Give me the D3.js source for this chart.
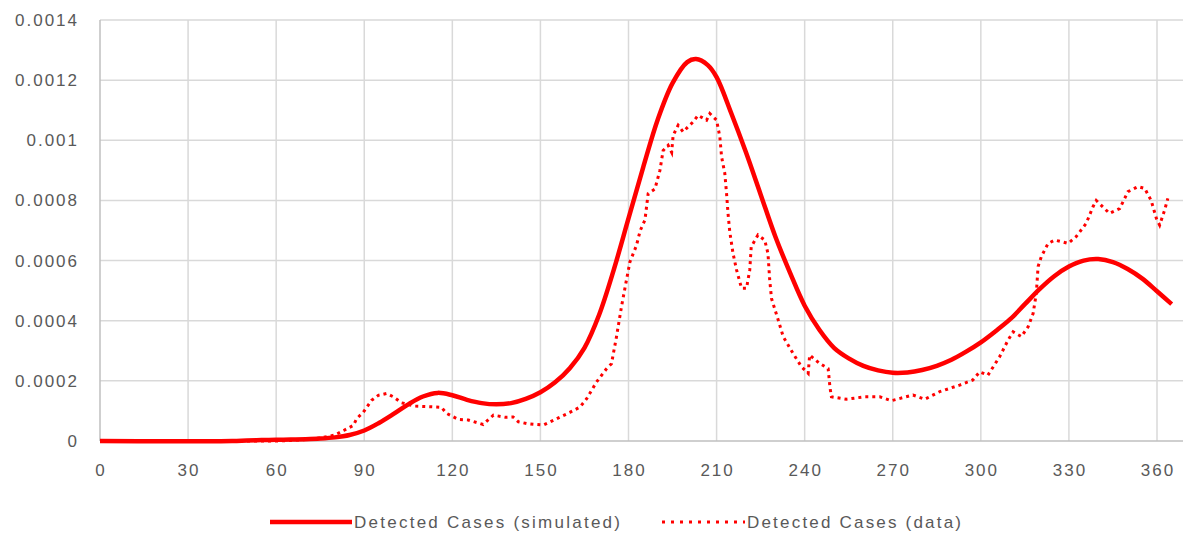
<!DOCTYPE html>
<html>
<head>
<meta charset="utf-8">
<script src="https://cdn.jsdelivr.net/npm/d3@7/dist/d3.min.js"></script>
<style>
  body { margin: 0; background: #fff; }
  text { font-family: "Liberation Sans", Arial, sans-serif; fill: #595959; }
</style>
</head>
<body>
<script>
// simulated series (smooth model curve), sampled every few days
let simDays = [0, 45, 50, 55, 60, 65, 70, 75, 80, 85, 90, 95, 100, 105, 110, 115, 120, 125, 130, 135,
    140, 145, 150, 155, 160, 165, 170, 175, 180, 185, 190, 195, 200, 203, 207, 210, 215, 220, 225, 230,
    235, 240, 245, 250, 255, 260, 265, 270, 275, 280, 285, 290, 295, 300, 305, 310, 315, 320, 325, 330,
    335, 340, 345, 350, 355, 360, 365];
let simValues = [0, 0, 0.000002, 0.000003, 0.000004, 0.000005, 0.000006, 0.000008, 0.000012, 0.00002,
    0.000035, 0.00006, 0.00009, 0.000122, 0.000148, 0.00016, 0.000152, 0.000137, 0.000126, 0.000122,
    0.000126, 0.00014, 0.000162, 0.000195, 0.000242, 0.00031, 0.00042, 0.00057, 0.00074, 0.00091,
    0.00107, 0.00119, 0.00126, 0.00127, 0.00125, 0.00121, 0.00109, 0.00096, 0.00082, 0.00068,
    0.00056, 0.00045, 0.00037, 0.00031, 0.000275, 0.00025, 0.000235, 0.000227, 0.000228, 0.000236,
    0.00025, 0.00027, 0.000297, 0.000328, 0.000365, 0.000405, 0.000455, 0.000505, 0.000548, 0.00058,
    0.0006, 0.000605, 0.000595, 0.000572, 0.00054, 0.000498, 0.000455];

// observed data series
let dataDays = [0, 60, 65, 70, 75, 80, 83, 86.3, 87.4, 89.7, 92.5, 94.8, 97.6, 99.9, 102.7, 107.3, 112.4,
    116.3, 118, 122, 125.4, 130.5, 134, 138, 140.7, 142.5, 145.3, 151, 155.5, 160, 163.5, 165.7, 169.1,
    172.5, 174.2, 175.9, 177.6, 179.3, 180.5, 182.7, 184, 185.6, 186.7, 189, 190.7, 191.8, 193.5, 194.7,
    195.2, 196.9, 198.6, 200.3, 202, 203.7, 206.6, 207.7, 210, 211.1, 211.7, 212.8, 213.4, 213.9, 214.5,
    215.6, 216.8, 218.5, 220.2, 221.3, 221.8, 224.1, 226.4, 227.5, 228.1, 228.7, 231, 232.7, 236, 238.9,
    241.2, 241.7, 245.1, 248, 248.6, 249.1, 254.2, 260.4, 265.6, 269.5, 276.9, 280.9, 286, 292.8, 297.3,
    299.6, 302.4, 306.4, 309.3, 311, 313.8, 316.1, 317.8, 318.9, 319.5, 320.6, 322.9, 325.2, 327.4,
    329.7, 332.5, 335.9, 338.2, 339.3, 343.8, 347.3, 350.1, 353.5, 355.8, 358, 359.8, 360.9, 362.6, 363.7];
let dataValues = [0, 0, 0.000002, 0.000005, 0.00001, 0.00002, 0.000035, 0.000052, 0.000074, 0.000096,
    0.000135, 0.000152, 0.000158, 0.000147, 0.000127, 0.000116, 0.000114, 0.000112, 0.000092, 0.000072,
    0.00007, 0.000055, 0.000086, 0.000079, 0.00008, 0.000064, 0.000058, 0.000053, 0.000074, 0.000095,
    0.000113, 0.00014, 0.000196, 0.00024, 0.000257, 0.000346, 0.000446, 0.000535, 0.000596, 0.00065,
    0.0007, 0.000735, 0.000823, 0.000838, 0.0009, 0.000966, 0.000983, 0.00096, 0.001016, 0.00105,
    0.001028, 0.001045, 0.001061, 0.001083, 0.001067, 0.001089, 0.001067, 0.001012, 0.000945, 0.00089,
    0.000823, 0.000756, 0.000695, 0.000624, 0.000569, 0.000508, 0.000508, 0.000569, 0.000646, 0.000685,
    0.000668, 0.000624, 0.000535, 0.000474, 0.000402, 0.000347, 0.000292, 0.000247, 0.000225, 0.000286,
    0.000258, 0.000241, 0.00018, 0.000147, 0.000139, 0.000147, 0.000147, 0.000134, 0.000153, 0.000139,
    0.000164, 0.000186, 0.000203, 0.00023, 0.000219, 0.00028, 0.000336, 0.000363, 0.000347, 0.00038,
    0.000424, 0.000491, 0.00058, 0.000613, 0.000657, 0.000668, 0.000663, 0.000657, 0.00068, 0.000724,
    0.000779, 0.0008, 0.000757, 0.000773, 0.000829, 0.000846, 0.00084, 0.0008, 0.00074, 0.000718,
    0.000768, 0.000807];

let xTicks = [0, 30, 60, 90, 120, 150, 180, 210, 240, 270, 300, 330, 360];
let yTicks = [0, 0.0002, 0.0004, 0.0006, 0.0008, 0.001, 0.0012, 0.0014];
let seriesNames = ["Detected Cases (simulated)", "Detected Cases (data)"];

let width = 1184,
    height = 537;

let svg = d3.select("body").append("svg")
    .attr("width", width).attr("height", height);

let x = d3.scaleLinear().domain([0, 360]).range([100, 1157]);
let y = d3.scaleLinear().domain([0, 0.0014]).range([441, 20]);
let xEnd = x.invert(1183);

// horizontal gridlines
svg.append("g").selectAll("line").data(yTicks.slice(1)).join("line")
    .attr("x1", x(0)).attr("x2", x(xEnd))
    .attr("y1", d => y(d)).attr("y2", d => y(d))
    .attr("stroke", "#d9d9d9").attr("stroke-width", 1.5);

// vertical gridlines
svg.append("g").selectAll("line").data(xTicks).join("line")
    .attr("x1", d => x(d)).attr("x2", d => x(d))
    .attr("y1", y(0)).attr("y2", y(0.0014))
    .attr("stroke", d => d == 0 ? "#bfbfbf" : "#d9d9d9").attr("stroke-width", 1.5);

// x axis line
svg.append("line")
    .attr("x1", x(0)).attr("x2", x(xEnd))
    .attr("y1", y(0)).attr("y2", y(0))
    .attr("stroke", "#bfbfbf").attr("stroke-width", 1.5);

// tick labels
svg.append("g").selectAll("text").data(yTicks).join("text")
    .attr("x", 79).attr("y", d => y(d)).attr("dy", "0.35em")
    .attr("text-anchor", "end")
    .style("font-size", "17px").style("letter-spacing", "2px")
    .text(d => d3.format("")(+d.toPrecision(2)));

svg.append("g").selectAll("text").data(xTicks).join("text")
    .attr("x", d => x(d) + 1).attr("y", 470).attr("dy", "0.35em")
    .attr("text-anchor", "middle")
    .style("font-size", "17px").style("letter-spacing", "2px")
    .text(d => d);

// series
let simLine = d3.line()
    .x((d, i) => x(simDays[i]))
    .y(d => y(d))
    .curve(d3.curveCatmullRom.alpha(0.5));

let dataLine = d3.line()
    .x((d, i) => x(dataDays[i]))
    .y(d => y(d));

svg.append("path").attr("d", simLine(simValues))
    .attr("fill", "none").attr("stroke", "#ff0000").attr("stroke-width", 4.5)
    .attr("stroke-linejoin", "round");

svg.append("path").attr("d", dataLine(dataValues))
    .attr("fill", "none").attr("stroke", "#ff0000").attr("stroke-width", 3)
    .attr("stroke-dasharray", "3,4");

// legend
let legend = svg.append("g");
legend.append("line").attr("x1", 270).attr("x2", 352).attr("y1", 522).attr("y2", 522)
    .attr("stroke", "#ff0000").attr("stroke-width", 4.5);
legend.append("text").attr("x", 354).attr("y", 522).attr("dy", "0.35em")
    .style("font-size", "17px").attr("textLength", 266).attr("lengthAdjust", "spacing")
    .text(seriesNames[0]);
legend.append("line").attr("x1", 662).attr("x2", 745).attr("y1", 522).attr("y2", 522)
    .attr("stroke", "#ff0000").attr("stroke-width", 3).attr("stroke-dasharray", "3,6");
legend.append("text").attr("x", 747).attr("y", 522).attr("dy", "0.35em")
    .style("font-size", "17px").attr("textLength", 214).attr("lengthAdjust", "spacing")
    .text(seriesNames[1]);
</script>
</body>
</html>
